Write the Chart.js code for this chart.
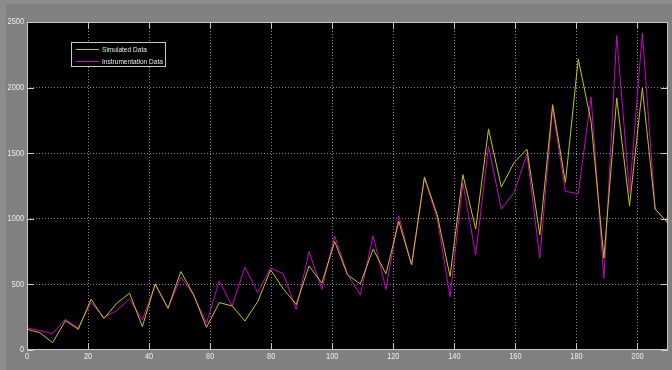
<!DOCTYPE html>
<html>
<head>
<meta charset="utf-8">
<script src="https://cdn.jsdelivr.net/npm/chart.js@4/dist/chart.umd.min.js"></script>
<style>
  html, body { margin: 0; padding: 0; background: #808080; }
  #wrap { width: 672px; height: 370px; }
</style>
</head>
<body>
<div id="wrap"><canvas id="c" width="672" height="370"></canvas></div>
<script>
// sample positions (x axis)
const xValues = [
  0, 4.2, 8.4, 12.6, 16.8, 21.0, 25.2, 29.4, 33.6, 37.8,
  42.0, 46.2, 50.4, 54.6, 58.8, 63.0, 67.2, 71.4, 75.6, 79.8,
  84.0, 88.2, 92.4, 96.6, 100.8, 105.0, 109.2, 113.4, 117.6, 121.8,
  126.0, 130.2, 134.4, 138.6, 142.8, 147.0, 151.2, 155.4, 159.6, 163.8,
  168.0, 172.2, 176.4, 180.6, 184.8, 189.0, 193.2, 197.4, 201.6, 205.8,
  210.0
];

const simulatedData = [
  158, 132, 56, 224, 158, 387, 239, 356, 433, 178,
  504, 318, 598, 420, 173, 361, 336, 221, 369, 611,
  465, 346, 641, 509, 827, 572, 504, 769, 580, 980,
  649, 1318, 1030, 560, 1336, 921, 1685, 1242, 1430, 1530,
  878, 1870, 1277, 2219, 1740, 700, 1921, 1099, 1997, 1074,
  967
];

const instrumentationData = [
  170, 148, 125, 234, 168, 361, 249, 300, 389, 229,
  496, 318, 555, 420, 204, 527, 336, 631, 438, 626,
  580, 310, 751, 463, 870, 580, 420, 870, 463, 1023,
  649, 1310, 1005, 407, 1272, 725, 1552, 1074, 1201, 1495,
  700, 1840, 1209, 1191, 1929, 547, 2397, 1196, 2417, 1074,
  967
];

const xTickValues = [0, 20, 40, 60, 80, 100, 120, 140, 160, 180, 200];
const yTickValues = [0, 500, 1000, 1500, 2000, 2500];

const seriesNames = ['Simulated Data', 'Instrumentation Data'];
const seriesColors = ['#c8c800', '#cc00cc'];

const toPoints = (ys) => ys.map((y, i) => ({ x: xValues[i], y }));

const FONT_FAMILY = '"Liberation Sans", Arial, sans-serif';
const NARROW = 0.82;   // horizontal squeeze for a narrow face
const LABEL_COLOR = '#ececec';

// writes text squeezed horizontally, anchored at (x, y)
function narrowText(ctx, text, x, y, align) {
  ctx.save();
  ctx.translate(x, y);
  ctx.scale(NARROW, 1);
  ctx.textAlign = align;
  ctx.fillText(text, 0, 0);
  ctx.restore();
}

// gray figure background, black axes, frame, inward ticks, tick labels and boxed legend
const figurePlugin = {
  id: 'figure',
  beforeDraw(chart) {
    const { ctx, chartArea: a } = chart;
    ctx.save();
    ctx.fillStyle = '#808080';
    ctx.fillRect(0, 0, chart.width, chart.height);
    ctx.fillStyle = '#8c8c8c';
    ctx.fillRect(0, 0, chart.width, 4);
    ctx.fillRect(0, 0, 6, chart.height);
    ctx.fillStyle = '#000000';
    ctx.fillRect(a.left, a.top, a.right - a.left, a.bottom - a.top);
    ctx.restore();
  },
  afterDraw(chart) {
    const { ctx, chartArea: a, scales } = chart;
    const xs = scales.x, ys = scales.y;
    const tickLen = 7;
    ctx.save();
    ctx.strokeStyle = '#c8c8c8';
    ctx.lineWidth = 1;
    ctx.beginPath();
    xs.ticks.forEach(t => {
      const px = Math.round(xs.getPixelForValue(t.value)) + 0.5;
      ctx.moveTo(px, a.bottom);
      ctx.lineTo(px, a.bottom - tickLen);
      ctx.moveTo(px, a.top);
      ctx.lineTo(px, a.top + tickLen);
    });
    ys.ticks.forEach(t => {
      const py = Math.round(ys.getPixelForValue(t.value)) + 0.5;
      ctx.moveTo(a.left, py);
      ctx.lineTo(a.left + tickLen, py);
      ctx.moveTo(a.right, py);
      ctx.lineTo(a.right - tickLen, py);
    });
    ctx.stroke();
    ctx.strokeRect(a.left + 0.5, a.top + 0.5, a.right - a.left - 1, a.bottom - a.top - 1);

    // tick labels
    ctx.fillStyle = LABEL_COLOR;
    ctx.font = '9px ' + FONT_FAMILY;
    ctx.textBaseline = 'middle';
    xs.ticks.forEach(t => {
      narrowText(ctx, String(t.value), xs.getPixelForValue(t.value), a.bottom + 7, 'center');
    });
    ys.ticks.forEach(t => {
      narrowText(ctx, String(t.value), a.left - 3, ys.getPixelForValue(t.value), 'right');
    });

    // legend box
    const bx = 71, by = 42, bw = 95, bh = 25;
    ctx.fillStyle = '#000000';
    ctx.fillRect(bx, by, bw, bh);
    ctx.strokeStyle = '#c8c8c8';
    ctx.lineWidth = 1;
    ctx.strokeRect(bx + 0.5, by + 0.5, bw - 1, bh - 1);
    ctx.font = '8px ' + FONT_FAMILY;
    ctx.textBaseline = 'middle';
    chart.data.datasets.forEach((ds, i) => {
      const ly = by + 7 + i * 12 + 0.5;
      ctx.strokeStyle = seriesColors[i];
      ctx.lineWidth = 1;
      ctx.beginPath();
      ctx.moveTo(bx + 5, ly);
      ctx.lineTo(bx + 28, ly);
      ctx.stroke();
      ctx.fillStyle = LABEL_COLOR;
      narrowText(ctx, ds.label, bx + 31, ly, 'left');
    });
    ctx.restore();
  }
};

new Chart(document.getElementById('c'), {
  type: 'line',
  data: {
    datasets: [
      {
        label: seriesNames[0],
        data: toPoints(simulatedData),
        borderColor: seriesColors[0],
        borderWidth: 1,
        pointRadius: 0,
        tension: 0,
        fill: false
      },
      {
        label: seriesNames[1],
        data: toPoints(instrumentationData),
        borderColor: seriesColors[1],
        borderWidth: 1,
        pointRadius: 0,
        tension: 0,
        fill: false
      }
    ]
  },
  options: {
    responsive: false,
    animation: false,
    devicePixelRatio: 1,
    layout: { padding: { left: 0, right: 4, top: 22, bottom: 0 } },
    plugins: {
      legend: { display: false },
      tooltip: { enabled: false }
    },
    scales: {
      x: {
        type: 'linear',
        min: 0,
        max: 210,
        afterBuildTicks: (s) => { s.ticks = xTickValues.map(v => ({ value: v })); },
        afterFit: (s) => { s.height = 20; },
        ticks: { display: false },
        grid: { color: '#8a8a8a', lineWidth: 1, drawTicks: false },
        border: { display: false, dash: [1, 2] }
      },
      y: {
        type: 'linear',
        min: 0,
        max: 2500,
        afterBuildTicks: (s) => { s.ticks = yTickValues.map(v => ({ value: v })); },
        afterFit: (s) => { s.width = 27; },
        ticks: { display: false },
        grid: { color: '#8a8a8a', lineWidth: 1, drawTicks: false },
        border: { display: false, dash: [1, 2] }
      }
    }
  },
  plugins: [figurePlugin]
});
</script>
</body>
</html>
